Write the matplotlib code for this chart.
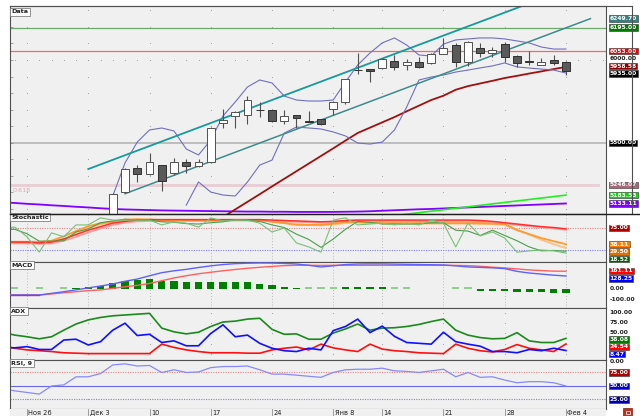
import numpy as np
import matplotlib
matplotlib.use('Agg')
import matplotlib.pyplot as plt
from matplotlib.patches import Rectangle
from matplotlib.lines import Line2D

# ---------------- DATA ----------------
tick_idx = [0, 5, 10, 15, 20, 25, 29, 34, 39, 44]
tick_lbl = ["Ноя 26", "Дек 3", "10", "17", "24", "Янв 8", "14", "21", "28", "Фев 4"]

# candles (bar index 7..44)
c_idx = list(range(7, 45))
c_open = [5020, 5202, 5347, 5311, 5365, 5317, 5384, 5359, 5384, 5622, 5661, 5667, 5700, 5698, 5631, 5667,
          5631, 5643, 5704, 5746, 5939, 5945, 5951, 5994, 5970, 5988, 5982, 6036, 6090, 5988, 6072, 6042,
          6096, 6024, 5994, 5970, 6000, 5988]
c_high = [5199, 5345, 5365, 5437, 5368, 5408, 5401, 5401, 5595, 5704, 5690, 5782, 5746, 5704, 5698, 5670,
          5691, 5646, 5750, 5888, 6042, 5948, 6010, 6030, 6006, 6018, 6040, 6133, 6103, 6112, 6103, 6078,
          6109, 6027, 6054, 6012, 6030, 5991]
c_low = [5010, 5195, 5263, 5308, 5207, 5305, 5317, 5355, 5380, 5589, 5589, 5613, 5655, 5628, 5613, 5589,
         5625, 5610, 5667, 5734, 5915, 5867, 5948, 5939, 5939, 5951, 5978, 6033, 5958, 5964, 6018, 6018,
         5988, 5958, 5970, 5967, 5970, 5909]
c_close = [5193, 5341, 5311, 5384, 5269, 5384, 5359, 5384, 5589, 5637, 5686, 5758, 5697, 5631, 5661, 5649,
           5628, 5613, 5746, 5885, 5937, 5933, 6006, 5958, 5988, 5958, 6036, 6072, 5988, 6109, 6042, 6060,
           6018, 5982, 5990, 5988, 5982, 5935]

# Bollinger bands
bbu_idx = list(range(7, 45))
bb_upper = [5178, 5378, 5504, 5577, 5589, 5571, 5462, 5426, 5516, 5662, 5746, 5837, 5879, 5861, 5782, 5758,
            5752, 5752, 5758, 5867, 5970, 6042, 6103, 6133, 6090, 6030, 6024, 6096, 6121, 6127, 6133, 6133,
            6127, 6115, 6103, 6078, 6066, 6066]
bbl_idx = list(range(13, 45))
bb_lower = [5123, 5263, 5202, 5184, 5178, 5263, 5365, 5395, 5558, 5595, 5589, 5583, 5565, 5541, 5498, 5492,
            5504, 5577, 5716, 5879, 5897, 5909, 5927, 5939, 5952, 5964, 5982, 5958, 5951, 5945, 5939, 5921]

# moving average (dark red)
ma_idx = list(range(15, 45))
ma_red = [5005, 5051, 5097, 5143, 5189, 5236, 5282, 5328, 5374, 5420, 5466, 5513, 5559, 5591, 5623, 5655,
          5690, 5724, 5758, 5784, 5820, 5842, 5858, 5874, 5891, 5904, 5918, 5931, 5945, 5958]

# slow purple average
ind_idx = list(range(-2, 45))
ma_purple = [5140, 5136, 5131, 5127, 5122, 5118, 5113, 5109, 5104, 5100, 5097, 5095, 5093, 5091, 5090, 5089,
             5088, 5087, 5086, 5085, 5084, 5084, 5083, 5083, 5082, 5082, 5082, 5082, 5083, 5084, 5086, 5089,
             5092, 5095, 5098, 5100, 5103, 5106, 5109, 5112, 5115, 5118, 5121, 5124, 5127, 5130, 5133]

# trend lines (two end points each)
chan_up_x, chan_up_y = [5, 41], [5341, 6342]
chan_lo_x, chan_lo_y = [8, 46], [5192, 6249.7]
green_x, green_y = [29, 44], [5051, 5183.53]

# horizontal levels
lvl_green, lvl_red, lvl_gray, lvl_pink = 6195.0, 6053.0, 5500.0, 5246.07

# Stochastic
st_k = [75, 77, 55, 20, 64, 55, 82, 82, 98, 93, 93, 93, 93, 82, 89, 86, 77, 98, 91, 93, 93, 86, 66, 75, 41,
        32, 20, 93, 98, 82, 84, 86, 82, 86, 82, 93, 86, 32, 86, 57, 66, 52, 20, 23, 25, 23, 18]
st_d = [72, 72, 62, 45, 45, 46, 66, 73, 87, 91, 95, 93, 93, 89, 88, 85, 84, 87, 89, 94, 92, 90, 82, 76, 61,
        49, 31, 50, 72, 90, 88, 84, 84, 84, 84, 87, 87, 70, 68, 58, 70, 58, 46, 32, 23, 24, 22]
st_or1 = [43, 43, 43, 43, 46, 56, 68, 79, 86, 89, 94, 95, 94, 93, 93, 93, 93, 93, 93, 93, 93, 93, 89, 86, 82,
          82, 82, 85, 89, 88, 87, 86, 86, 86, 86, 86, 86, 86, 86, 86, 85, 84, 70, 61, 52, 45, 38.11]
st_or2 = [44, 44, 44, 44, 44, 50, 62, 74, 83, 88, 92, 94, 94, 93, 92, 92, 92, 92, 92, 93, 93, 92, 90, 87, 84,
          82, 81, 83, 86, 88, 87, 86, 85, 85, 85, 85, 85, 85, 85, 84, 84, 82, 72, 60, 48, 38, 29.5]
st_red1 = [44, 43, 43, 41, 43, 50, 60, 70, 78, 86, 90, 93, 94, 94, 94, 94, 94, 94, 94, 94, 94, 94, 93, 92, 91,
           90, 89, 90, 92, 93, 93, 93, 93, 93, 93, 93, 93, 93, 93, 92, 90, 87, 84, 81, 78, 76, 73]
st_red2 = [41, 40, 40, 39, 40, 46, 55, 65, 74, 82, 87, 90, 91, 91, 91, 91, 91, 91, 91, 92, 92, 92, 91, 90, 89,
           88, 87, 88, 89, 90, 90, 90, 90, 90, 90, 90, 90, 90, 90, 89, 88, 85, 82, 79, 77, 74, 71]

# MACD
macd_red = [-55, -55, -55, -55, -45, -35, -25, -15, -9, 5, 20, 33, 50, 75, 100, 120, 138, 152, 165, 177, 188,
            197, 205, 212, 215, 215, 214, 215, 215, 215, 215, 215, 215, 215, 215, 215, 215, 214, 212, 206, 198,
            191, 182, 173, 167, 162, 161.11]
macd_blue = [-55, -55, -55, -55, -40, -25, -8, 10, 27, 45, 70, 90, 120, 148, 165, 178, 195, 210, 222, 230, 234,
             236, 235, 232, 227, 215, 200, 210, 222, 227, 228, 228, 226, 224, 222, 220, 218, 210, 200, 196, 192,
             185, 160, 145, 135, 125, 118]
macd_hist = [0, 15, 0, 15, 0, 15, 12, 20, 30, 52, 76, 82, 88, 76, 73, 67, 67, 67, 67, 67, 64, 45, 33, 21, 12,
             15, 15, 15, 15, 15, 15, 20, 15, 15, 0, 0, 0, 15, 15, -15, -15, -18, -27, -30, -30, -33, -36]
macd_hist_dark = [0, 0, 0, 0, 0, 0, 1, 1, 1, 1, 1, 1, 1, 1, 1, 1, 1, 1, 1, 1, 1, 1, 1, 1, 1,
                  0, 0, 0, 1, 1, 1, 1, 0, 0, 0, 0, 0, 0, 0, 1, 1, 1, 1, 1, 1, 1, 1]

# ADX
adx_green = [53, 46, 42, 37, 42, 58, 73, 83, 89, 93, 95, 97, 99, 63, 54, 49, 53, 67, 78, 80, 85, 87, 60, 48, 49,
             36, 36, 51, 61, 73, 58, 63, 64, 67, 72, 79, 85, 58, 46, 40, 37, 38, 52, 32, 28, 28, 38.08]
adx_blue = [16, 15, 18, 11, 11, 34, 36, 22, 30, 58, 75, 45, 48, 28, 32, 20, 20, 50, 71, 42, 46, 26, 14, 8, 6,
            14, 10, 57, 67, 85, 52, 68, 43, 28, 26, 24, 53, 30, 24, 19, 6, 6, 3, 11, 8, 14, 8.47]
adx_red = [20, 14, 10, 8, 6, 3, 2, 1, 1, 1, 1, 1, 1, 24, 16, 10, 6, 3, 3, 3, 2, 2, 10, 14, 17,
           10, 24, 15, 10, 6, 24, 12, 8, 6, 3, 2, 1, 24, 14, 8, 5, 11, 23, 14, 10, 6, 24.54]

# RSI
rsi = [45, 41, 38, 35, 50, 52, 67, 67, 73, 89, 91, 87, 88, 75, 80, 75, 76, 84, 86, 86, 87, 80, 72, 72, 70,
       68, 66, 75, 80, 81, 81, 83, 78, 77, 75, 78, 81, 67, 75, 66, 67, 61, 56, 58, 58, 56, 50]

# ---------------- FIGURE ----------------
W, H = 640, 416
fig = plt.figure(figsize=(6.4, 4.16), dpi=100)
fig.patch.set_facecolor('white')
plt.rcParams['font.family'] = ['DejaVu Sans']

XMIN, XMAX = -1.39, 47.27
PANEL_BG = '#f0f0f0'
LFS = 4.3


def px_axes(x0, y0, x1, y1):
    ax = fig.add_axes([x0 / W, 1 - y1 / H, (x1 - x0) / W, (y1 - y0) / H])
    ax.set_facecolor(PANEL_BG)
    ax.set_xlim(XMIN, XMAX)
    ax.set_xticks([])
    ax.set_yticks([])
    for s in ax.spines.values():
        s.set_color('#505050')
        s.set_linewidth(0.8)
    return ax


def title(ax, text):
    ax.text(0.002, 0.985, text, transform=ax.transAxes, va='top', ha='left', fontsize=4.6,
            fontweight='bold', color='#202020', zorder=20,
            bbox=dict(boxstyle='square,pad=0.25', fc='white', ec='#808080', lw=0.6))


def rlabel(ax, y, text, bg=None, fg='white'):
    kw = dict(transform=ax.get_yaxis_transform(), fontsize=LFS, fontweight='bold', va='center',
              ha='left', color=fg if bg else '#202020', clip_on=False, zorder=30)
    if bg:
        kw['bbox'] = dict(boxstyle='square,pad=0.12', fc=bg, ec='#303030', lw=0.4)
    ax.text(1.006, y, text, **kw)


def vgrid(ax):
    for t in tick_idx:
        ax.axvline(t, color='#a8a8a8', lw=0.6, ls=(0, (1, 2.5)), zorder=0)


# ---------- main panel ----------
ax = px_axes(10, 6, 606, 214)
ax.set_ylim(5069.4, 6326)
levels = np.arange(5100, 6400, 100)
gx, gy = np.meshgrid(tick_idx, levels)
ax.scatter(gx.ravel(), gy.ravel(), s=0.6, color='#9a9a9a', lw=0, zorder=0)
bars = np.arange(-1, 48)
ax.scatter(bars, np.full(len(bars), 6000.0), s=0.6, color='#9a9a9a', lw=0, zorder=0)
ax.set_yticks(levels)
ax.tick_params(axis='y', direction='in', length=2, width=0.5, color='#808080', labelleft=False)

ax.axhline(lvl_green, color='#6aaa6a', lw=0.9, zorder=1)
ax.axhline(lvl_red, color='#ff6464', lw=0.9, zorder=1)
ax.axhline(lvl_gray, color='#bdbdbd', lw=1.4, zorder=1)
ax.plot([XMIN, 46.6], [lvl_pink, lvl_pink], color='#e9cdd5', lw=2.0, zorder=1)
ax.text(-1.2, lvl_pink - 18, '0.618', fontsize=4.6, color='#e0a8b8', va='top', ha='left', zorder=2)

ax.plot(ind_idx, ma_purple, color='#8000ff', lw=1.3, zorder=2)
ax.plot(green_x, green_y, color='#22ee22', lw=1.2, zorder=2)
ax.plot(ma_idx, ma_red, color='#a01010', lw=1.3, zorder=3)
ax.plot(bbu_idx, bb_upper, color='#6f6fbf', lw=0.8, zorder=3)
ax.plot(bbl_idx, bb_lower, color='#6f6fbf', lw=0.8, zorder=3)
ax.plot(chan_up_x, chan_up_y, color='#169a9a', lw=1.3, zorder=4)
ax.plot(chan_lo_x, chan_lo_y, color='#3c8c8c', lw=1.1, zorder=4)

for i, o, h, l, c in zip(c_idx, c_open, c_high, c_low, c_close):
    up = c >= o
    ax.vlines(i, l, h, color='#505050', lw=0.8, zorder=5)
    body = max(abs(c - o), 2)
    ax.bar(i, body, bottom=min(o, c), width=0.65, color='white' if up else '#5a5a5a',
           edgecolor='#505050' if up else '#303030', lw=0.7, zorder=6)

title(ax, 'Data')
rlabel(ax, 6249.70, '6249.70', '#3a7f7f')
rlabel(ax, 6195.00, '6195.00', '#007a00')
rlabel(ax, 6053.00, '6053.00', '#ee0000')
rlabel(ax, 6007.0, '6000.00')
rlabel(ax, 5962.0, '5958.58', '#8b0000')
rlabel(ax, 5918.0, '5935.00', '#000000')
rlabel(ax, 5500.00, '5500.00', '#000000')
rlabel(ax, 5246.07, '5246.07', '#a86878')
rlabel(ax, 5183.53, '5183.53', '#00dd00')
rlabel(ax, 5133.11, '5133.11', '#8000ff')

# ---------- stochastic ----------
ax2 = px_axes(10, 214, 606, 262)
ax2.set_ylim(-2.3, 106.8)
vgrid(ax2)
ax2.axhline(75, color='#e08888', lw=0.8, ls=(0, (1, 1.2)))
ax2.axhline(25, color='#8080ee', lw=0.8, ls=(0, (1, 1.2)))
ax2.plot(ind_idx, st_red2, color='#ff9a9a', lw=1.3)
ax2.plot(ind_idx, st_or2, color='#ffbf80', lw=1.3)
ax2.plot(ind_idx, st_or1, color='#ff9a30', lw=1.3)
ax2.plot(ind_idx, st_red1, color='#ff3030', lw=1.1)
ax2.plot(ind_idx, st_d, color='#4a9e4a', lw=0.8)
ax2.plot(ind_idx, st_k, color='#78c078', lw=0.8)
title(ax2, 'Stochastic')
rlabel(ax2, 75, '75.00', '#b00000')
rlabel(ax2, 38.5, '38.11', '#ff8000')
rlabel(ax2, 21.5, '29.50', '#e07000')
rlabel(ax2, 4.5, '18.52', '#006400')

# ---------- MACD ----------
ax3 = px_axes(10, 262, 606, 308)
ax3.set_ylim(-173, 245)
vgrid(ax3)
hcols = ['#008000' if d else '#8fd08f' for d in macd_hist_dark]
ax3.bar(ind_idx, macd_hist, width=0.6, color=hcols, zorder=2)
ax3.plot(ind_idx, macd_red, color='#ff6060', lw=1.0, zorder=3)
ax3.plot(ind_idx, macd_blue, color='#6060ff', lw=1.0, zorder=3)
ax3.plot(ind_idx[:4], macd_red[:4], color='#9040a0', lw=1.0, zorder=4)
title(ax3, 'MACD')
rlabel(ax3, 165, '161.11', '#ff0000')
rlabel(ax3, 97, '128.25', '#0000ff')
rlabel(ax3, 0, '0.00')
rlabel(ax3, -100, '-100.00')

# ---------- ADX ----------
ax4 = px_axes(10, 308, 606, 360)
ax4.set_ylim(-14.6, 112)
gx, gy = np.meshgrid(tick_idx, [0, 25, 50, 75, 100])
ax4.scatter(gx.ravel(), gy.ravel(), s=0.6, color='#9a9a9a', lw=0, zorder=0)
ax4.plot(ind_idx, adx_green, color='#1a8a1a', lw=1.2)
ax4.plot(ind_idx, adx_red, color='#ff1010', lw=1.2)
ax4.plot(ind_idx, adx_blue, color='#1010ff', lw=1.2)
title(ax4, 'ADX')
rlabel(ax4, 100, '100.00')
rlabel(ax4, 76, '75.00')
rlabel(ax4, 53.5, '50.00')
rlabel(ax4, 35.5, '38.08', '#007a00')
rlabel(ax4, 17.5, '24.54', '#ff0000')
rlabel(ax4, -0.5, '8.47', '#0000ff')
rlabel(ax4, -17.5, '0.00')

# ---------- RSI ----------
ax5 = px_axes(10, 360, 606, 409)
ax5.set_ylim(7.4, 98.1)
gx, gy = np.meshgrid(tick_idx, [25, 50, 75])
ax5.scatter(gx.ravel(), gy.ravel(), s=0.6, color='#9a9a9a', lw=0, zorder=0)
ax5.axhline(75, color='#e08888', lw=0.8, ls=(0, (1, 1.2)))
ax5.axhline(50, color='#6666ee', lw=0.8)
ax5.axhline(25, color='#8080ee', lw=0.8, ls=(0, (1, 1.2)))
ax5.plot(ind_idx, rsi, color='#8888ff', lw=0.9)
title(ax5, 'RSI, 9')
rlabel(ax5, 75, '75.00', '#b00000')
rlabel(ax5, 50, '50.00', '#0000cc')
rlabel(ax5, 25, '25.00', '#0000aa')

# ---------- date strip ----------
axd = px_axes(10, 409, 606, 416)
axd.set_ylim(0, 1)
for s in axd.spines.values():
    s.set_visible(False)
for t, lb in zip(tick_idx, tick_lbl):
    axd.axvline(t, color='#909090', lw=0.6)
    axd.text(t + 0.12, 0.45, lb, fontsize=4.8, va='center', ha='left', color='#202020')

# frame lines of the right column
fig.add_artist(Line2D([10 / W, 632 / W], [1 - 6 / H, 1 - 6 / H], color='#505050', lw=0.8))
fig.add_artist(Line2D([632 / W, 632 / W], [1 - 6 / H, 1 - 214 / H], color='#505050', lw=0.8))
fig.add_artist(Line2D([10 / W, 640 / W], [1 - 214 / H, 1 - 214 / H], color='#202020', lw=1.0))
fig.add_artist(Rectangle((623 / W, 0), 9 / W, 8 / H, transform=fig.transFigure, fc='#c0301c', ec='#802010', lw=0.5))
fig.add_artist(Rectangle((625.5 / W, 2.5 / H), 4 / W, 3 / H, transform=fig.transFigure, fc='none', ec='white', lw=0.5))

fig.savefig('out.png', dpi=100, facecolor='white')
